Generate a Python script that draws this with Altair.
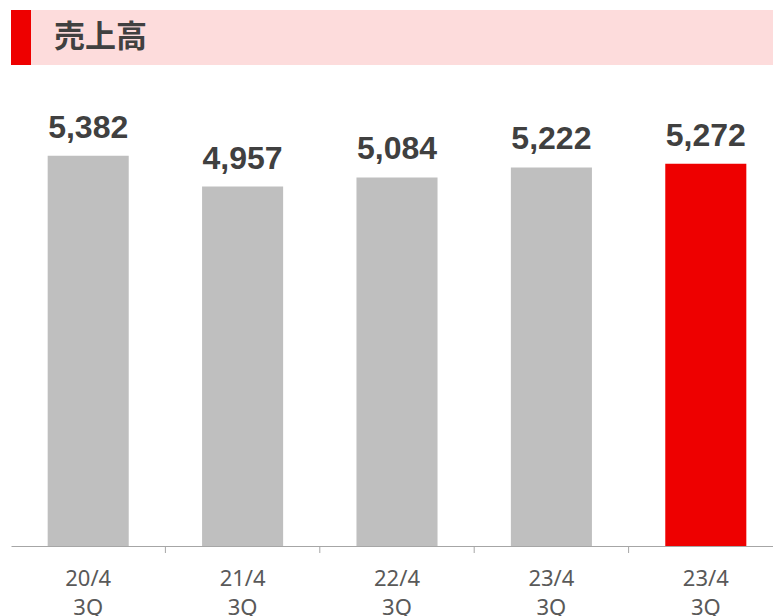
import altair as alt
import pandas as pd

# ---- data ----
keys = ["0", "1", "2", "3", "4"]
period_labels = ["20/4|3Q", "21/4|3Q", "22/4|3Q", "23/4|3Q", "23/4|3Q"]
sales = [5382, 4957, 5084, 5222, 5272]
title_text = "売上高"

df = pd.DataFrame({"key": keys, "sales": sales})
last_key = keys[-1]

W, H = 762, 435
label_array = "[" + ",".join("'" + s + "'" for s in period_labels) + "]"

x_scale = alt.Scale(domain=keys, range=[0, 772], paddingInner=0.475, paddingOuter=0.2375)

xenc = alt.X(
    "key:N",
    scale=x_scale,
    sort=keys,
    title=None,
    axis=alt.Axis(
        labelExpr="split(" + label_array + "[toNumber(datum.value)], '|')",
        labelAngle=0,
        labelFont="Noto Sans",
        labelFontSize=22,
        labelColor="#595959",
        labelLineHeight=29,
        labelPadding=22,
        ticks=False,
        domainColor="#A6A6A6",
        domainWidth=1,
        grid=False,
    ),
)
yenc = alt.Y("sales:Q", scale=alt.Scale(domain=[0, 6000]), axis=None)

base = alt.Chart(df)

bars = base.mark_bar().encode(
    x=xenc,
    y=yenc,
    color=alt.condition(alt.datum.key == last_key, alt.value("#EE0000"), alt.value("#BFBFBF")),
)

labels = base.mark_text(
    font="Liberation Sans", fontSize=32, fontWeight="bold", color="#404040",
    baseline="alphabetic", dy=-18,
).encode(x=xenc, y=yenc, text=alt.Text("sales:Q", format=",.0f"))

ticks = alt.Chart(pd.DataFrame({"key": keys[:-1]})).mark_rule(
    color="#A6A6A6", strokeWidth=1, xOffset=77.2
).encode(x=alt.X("key:N", scale=x_scale, sort=keys), y=alt.value(H), y2=alt.value(H + 7))

tdf = pd.DataFrame({"t": [title_text]})
band = alt.Chart(tdf).mark_rect(color="#FDDCDC").encode(
    x=alt.value(0), x2=alt.value(W), y=alt.value(-101), y2=alt.value(-46)
)
accent = alt.Chart(tdf).mark_rect(color="#EE0000").encode(
    x=alt.value(0), x2=alt.value(20), y=alt.value(-101), y2=alt.value(-46)
)
ttext = alt.Chart(tdf).mark_text(
    font="Noto Sans CJK JP", fontSize=31, fontWeight="bold", color="#404040",
    align="left", baseline="middle",
).encode(x=alt.value(43), y=alt.value(-73), text="t:N")

chart = alt.layer(band, accent, ttext, bars, labels, ticks).properties(
    width=W, height=H,
    autosize=alt.AutoSizeParams(type="none"),
    padding={"left": 11, "top": 111, "right": 0, "bottom": 70},
).configure_view(stroke=None)

chart.save("out.html", embed_options={"renderer": "svg", "actions": False})
